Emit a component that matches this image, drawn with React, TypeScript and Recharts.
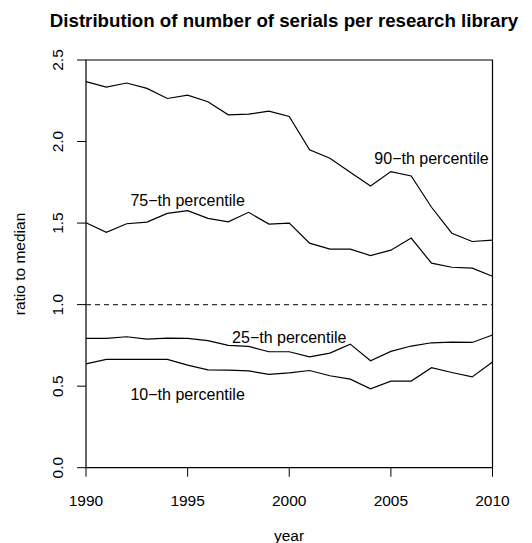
import React from 'react';
import { LineChart, Line, XAxis, YAxis, ReferenceArea, ReferenceLine, ReferenceDot } from 'recharts';

const years = [1990, 1991, 1992, 1993, 1994, 1995, 1996, 1997, 1998, 1999, 2000, 2001, 2002, 2003, 2004, 2005, 2006, 2007, 2008, 2009, 2010];
const p90 = [2.367, 2.334, 2.359, 2.326, 2.264, 2.285, 2.244, 2.164, 2.168, 2.186, 2.154, 1.949, 1.898, 1.811, 1.727, 1.816, 1.789, 1.597, 1.438, 1.387, 1.395];
const p75 = [1.502, 1.443, 1.496, 1.506, 1.559, 1.576, 1.529, 1.508, 1.566, 1.494, 1.5, 1.377, 1.34, 1.34, 1.301, 1.334, 1.408, 1.254, 1.229, 1.224, 1.174];
const p25 = [0.793, 0.793, 0.803, 0.789, 0.795, 0.793, 0.779, 0.75, 0.744, 0.711, 0.711, 0.68, 0.703, 0.758, 0.656, 0.713, 0.746, 0.766, 0.77, 0.768, 0.814];
const p10 = [0.637, 0.664, 0.664, 0.664, 0.664, 0.629, 0.6, 0.598, 0.594, 0.572, 0.582, 0.596, 0.564, 0.543, 0.484, 0.531, 0.531, 0.613, 0.584, 0.557, 0.648];

const xTicks = [1990, 1995, 2000, 2005, 2010];
const yTicks = [0, 0.5, 1, 1.5, 2, 2.5];

// annotation text: [year, value, label]
const labels: [number, number, string][] = [
  [2007, 1.9, '90\u2212th percentile'],
  [1995, 1.64, '75\u2212th percentile'],
  [2000, 0.8, '25\u2212th percentile'],
  [1995, 0.45, '10\u2212th percentile'],
];

const FONT = '"Liberation Sans", Arial, Helvetica, sans-serif';
const FS = 15.5;

const data = years.map((year, i) => ({ year, p90: p90[i], p75: p75[i], p25: p25[i], p10: p10[i] }));

const XTick = ({ x, payload }: any) => (
  <text x={x} y={498} textAnchor="middle" fontSize={FS} fontFamily={FONT} fill="#000">
    {payload.value}
  </text>
);

const YTick = ({ y, payload }: any) => (
  <text x={54.7} y={y} transform={`rotate(-90 54.7 ${y})`} textAnchor="middle" fontSize={FS} fontFamily={FONT} fill="#000">
    {Number(payload.value).toFixed(1)}
  </text>
);

const App = () => {
  return (
    <div style={{ position: 'relative', width: 516, height: 535 }}>
      <LineChart width={516} height={535} data={data} margin={{ top: 52, right: 31.5, bottom: 35.3, left: 18 }}>
        <XAxis
          dataKey="year"
          type="number"
          domain={[1990, 2010]}
          ticks={xTicks}
          height={40}
          axisLine={false}
          tickSize={9}
          tickLine={{ stroke: '#000' }}
          tick={<XTick />}
          interval={0}
        />
        <YAxis
          type="number"
          domain={[0, 2.5]}
          ticks={yTicks}
          width={60}
          axisLine={false}
          tickSize={9}
          tickLine={{ stroke: '#000' }}
          tick={<YTick />}
          interval={0}
          allowDataOverflow
        />
        <ReferenceArea x1={1990} x2={2010} y1={0} y2={2.5} fill="none" fillOpacity={0} stroke="#000" strokeWidth={1.2} />
        <ReferenceLine y={1} stroke="#333" strokeWidth={1.2} strokeDasharray="5 4" />
        <Line type="linear" dataKey="p90" stroke="#000" strokeWidth={1.2} dot={false} isAnimationActive={false} />
        <Line type="linear" dataKey="p75" stroke="#000" strokeWidth={1.2} dot={false} isAnimationActive={false} />
        <Line type="linear" dataKey="p25" stroke="#000" strokeWidth={1.2} dot={false} isAnimationActive={false} />
        <Line type="linear" dataKey="p10" stroke="#000" strokeWidth={1.2} dot={false} isAnimationActive={false} />
        {labels.map(([x, y, text]) => (
          <ReferenceDot
            key={text}
            x={x}
            y={y}
            r={0}
            fill="none"
            stroke="none"
            label={{ value: text, position: 'center', fontSize: 16, fontFamily: FONT, fill: '#000' }}
          />
        ))}
      </LineChart>
      <svg width={516} height={535} style={{ position: 'absolute', left: 0, top: 0, pointerEvents: 'none' }}>
        <text x={276} y={19} textAnchor="middle" fontSize={18.7} fontWeight="bold" fontFamily={FONT}>
          Distribution of number of serials per research library
        </text>
        <text x={281} y={533} textAnchor="middle" fontSize={FS} fontFamily={FONT}>
          year
        </text>
        <text x={17.4} y={256} transform="rotate(-90 17.4 256)" textAnchor="middle" fontSize={FS} fontFamily={FONT}>
          ratio to median
        </text>
      </svg>
    </div>
  );
};

export default App;
